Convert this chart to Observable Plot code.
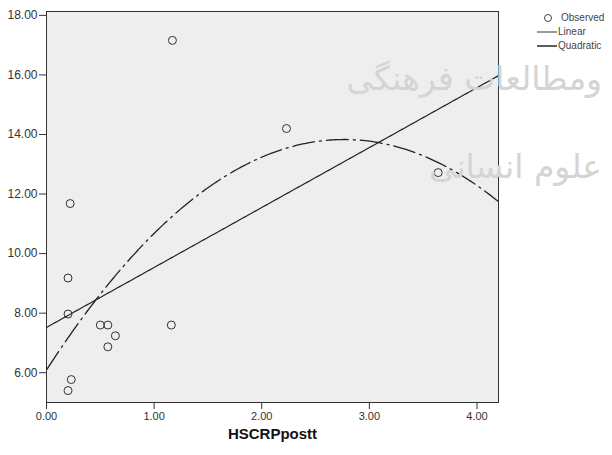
<!DOCTYPE html>
<html><head><meta charset="utf-8">
<script src="https://cdn.jsdelivr.net/npm/d3@7"></script>
<script src="https://cdn.jsdelivr.net/npm/@observablehq/plot@0.6"></script>
<style>
body{margin:0;background:#fff;font-family:"Liberation Sans",Arial,sans-serif;}
#wrap{position:relative;width:612px;height:455px;overflow:hidden;}
#wm{position:absolute;left:0;top:0;width:612px;height:455px;pointer-events:none;overflow:hidden;}
#wm div{position:absolute;white-space:nowrap;color:#d4d4d4;font-family:"DejaVu Sans",sans-serif;line-height:1;}
#legend{position:absolute;left:535px;top:11px;font-size:10px;color:#444;white-space:nowrap;}
#legend .row{height:14px;line-height:14px;display:flex;align-items:center;}
#legend svg{display:block;}
</style></head><body><div id="wrap"><div id="chart"></div><div id="wm"></div><div id="legend"></div></div>
<script>
// Observed points
const hscrp  = [1.17, 2.23, 3.64, 0.22, 0.20, 0.20, 0.50, 0.57, 0.64, 0.57, 0.23, 0.20, 1.16];
const outcome = [17.16, 14.20, 12.72, 11.68, 9.18, 7.97, 7.60, 7.60, 7.24, 6.87, 5.77, 5.40, 7.60];
const xTicks = [0, 1, 2, 3, 4];
const yTicks = [6, 8, 10, 12, 14, 16, 18];
const xLabel = "HSCRPpostt";
const legendLabels = ["Observed", "Linear", "Quadratic"];
const watermark = ["ومطالعات فرهنگی", "علوم انسانی"];

const obs = hscrp.map((x, i) => ({x, y: outcome[i]}));

// least-squares fits of the observed data (linear and quadratic)
function polyFit(xs, ys, deg) {
  const m = deg + 1;
  const A = Array.from({length: m}, () => new Array(m + 1).fill(0));
  for (let k = 0; k < xs.length; k++) {
    for (let i = 0; i < m; i++) {
      for (let j = 0; j < m; j++) A[i][j] += Math.pow(xs[k], i + j);
      A[i][m] += ys[k] * Math.pow(xs[k], i);
    }
  }
  for (let i = 0; i < m; i++) {
    let p = i;
    for (let r = i + 1; r < m; r++) if (Math.abs(A[r][i]) > Math.abs(A[p][i])) p = r;
    [A[i], A[p]] = [A[p], A[i]];
    for (let r = 0; r < m; r++) {
      if (r === i) continue;
      const f = A[r][i] / A[i][i];
      for (let c = i; c <= m; c++) A[r][c] -= f * A[i][c];
    }
  }
  return A.map((row, i) => row[m] / row[i]);
}
const linC = polyFit(hscrp, outcome, 1);
const quadC = polyFit(hscrp, outcome, 2);
const xDomain = [0, 4.2];
const grid = d3.range(xDomain[0], xDomain[1] + 1e-9, 0.02);
const evalPoly = (c, x) => c.reduce((s, v, i) => s + v * Math.pow(x, i), 0);
const linFit = grid.map(x => ({x, y: evalPoly(linC, x)}));
const quadFit = grid.map(x => ({x, y: evalPoly(quadC, x)}));

const chart = Plot.plot({
  width: 612, height: 455,
  marginLeft: 46, marginRight: 114, marginTop: 11, marginBottom: 53,
  style: {background: "transparent", fontFamily: "'Liberation Sans', Arial, sans-serif", color: "#333"},
  x: {domain: xDomain},
  y: {domain: [5, 18.13]},
  marks: [
    Plot.frame({fill: "#eeeeee", stroke: null}),
    Plot.axisX({ticks: xTicks, tickFormat: d3.format(".2f"), tickSize: 7, tickPadding: 3, label: null,
      fontSize: 11, fontFamily: "'Liberation Sans Narrow', 'Liberation Sans', Arial, sans-serif", stroke: "#333"}),
    Plot.axisY({ticks: yTicks, tickFormat: d3.format(".2f"), tickSize: 7, tickPadding: 2, label: null,
      fontSize: 12, stroke: "#333"}),
    Plot.line(linFit, {x: "x", y: "y", stroke: "#222", strokeWidth: 1.2, clip: true}),
    Plot.line(quadFit, {x: "x", y: "y", stroke: "#222", strokeWidth: 1.3, strokeDasharray: "22,5,2,5", clip: true}),
    Plot.dot(obs, {x: "x", y: "y", r: 4, stroke: "#333", strokeWidth: 1, fill: "none"}),
    Plot.frame({stroke: "#333", strokeWidth: 1}),
    Plot.text([xLabel], {frameAnchor: "bottom", dy: 32, fontWeight: "bold", fontSize: 15, fill: "#111", lineAnchor: "middle"})
  ]
});
document.getElementById("chart").appendChild(chart);

// faint watermark text over the right part (as in the reference)
const wm = document.getElementById("wm");
[[0, 602, 62, 33], [1, 602, 150, 33]].forEach(([i, right, top, fs]) => {
  const d = document.createElement("div");
  d.textContent = watermark[i];
  d.dir = "rtl";
  d.style.fontSize = fs + "px";
  d.style.right = (612 - right) + "px";
  d.style.top = top + "px";
  wm.appendChild(d);
});

// legend
const lg = document.getElementById("legend");
const sw = [
  '<svg width="22" height="12"><circle cx="13" cy="6" r="3.5" fill="none" stroke="#444"/></svg>',
  '<svg width="22" height="12"><line x1="2" y1="6" x2="22" y2="6" stroke="#333" stroke-width="1"/></svg>',
  '<svg width="22" height="12"><line x1="2" y1="6" x2="22" y2="6" stroke="#333" stroke-width="1.6"/></svg>'
];
legendLabels.forEach((t, i) => {
  const r = document.createElement("div");
  r.className = "row";
  r.innerHTML = sw[i] + '<span style="margin-left:' + (i === 0 ? 4 : 1) + 'px">' + t + '</span>';
  lg.appendChild(r);
});
</script>
</body></html>
